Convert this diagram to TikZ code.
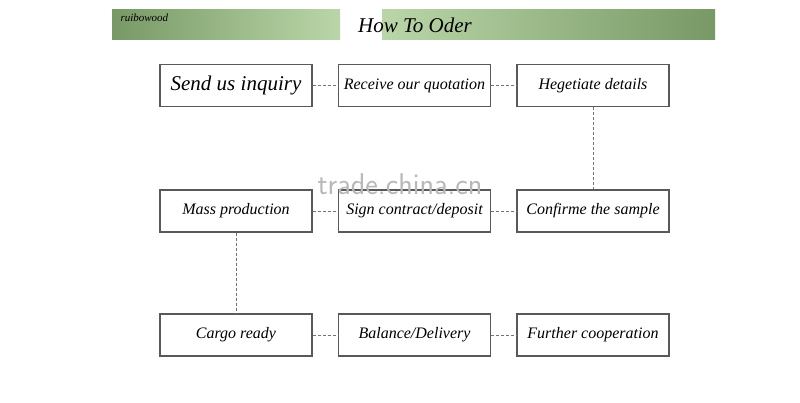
\documentclass[tikz,border=0pt]{standalone}
\usepackage{fontspec}
\setmainfont{Liberation Serif}
\usepackage{tikz}
\definecolor{darkgreen}{rgb}{0.47,0.6,0.4}
\definecolor{lightgreen}{rgb}{0.73,0.84,0.66}
\definecolor{boxgray}{rgb}{0.35,0.35,0.35}

\begin{document}
\begin{tikzpicture}[x=1pt, y=-1pt,
  stepbox/.style={draw=boxgray, line width=1.3pt, minimum width=152pt, minimum height=42pt, inner sep=0pt, font=\itshape\fontsize{16}{18}\selectfont},
  link/.style={densely dashed, black!55, line width=0.8pt}]
  \useasboundingbox (0,0) rectangle (800,403);

  % banner at the top, two halves with a white gap
  \shade[left color=darkgreen, right color=lightgreen] (112,10) rectangle (340,40);
  \shade[left color=lightgreen, right color=darkgreen] (382,10) rectangle (715,40);
  \node[draw=none, anchor=west, font=\itshape\fontsize{11}{12}\selectfont] (brand) at (117,18) {ruibowood};
  \node[draw=none, font=\itshape\fontsize{21}{23}\selectfont] (title) at (415,25) {How To Oder};

  % first row
  \node[stepbox, font=\itshape\fontsize{21}{23}\selectfont] (inquiry) at (236,85.5) {Send us inquiry};
  \node[stepbox] (quote) at (414.5,85.5) {Receive our quotation};
  \node[stepbox] (details) at (593,85.5) {Hegetiate details};

  % second row
  \node[stepbox] (mass) at (236,211) {Mass production};
  \node[stepbox] (contract) at (414.5,211) {Sign contract/deposit};
  \node[stepbox] (sample) at (593,211) {Confirme the sample};

  % third row
  \node[stepbox] (cargo) at (236,335) {Cargo ready};
  \node[stepbox] (balance) at (414.5,335) {Balance/Delivery};
  \node[stepbox] (further) at (593,335) {Further cooperation};

  % watermark
  \node[font=\sffamily\fontsize{30}{32}\selectfont, text=black!28, inner sep=0pt] (mark) at (400,184) {trade.china.cn};

  % dashed links along the rows
  \draw[link] (inquiry) -- (quote);
  \draw[link] (quote) -- (details);
  \draw[link] (mass) -- (contract);
  \draw[link] (contract) -- (sample);
  \draw[link] (cargo) -- (balance);
  \draw[link] (balance) -- (further);

  % dashed links between the rows
  \draw[link] (details.south) -- (sample.north);
  \draw[link] (mass.south) -- (cargo.north);

\end{tikzpicture}
\end{document}
